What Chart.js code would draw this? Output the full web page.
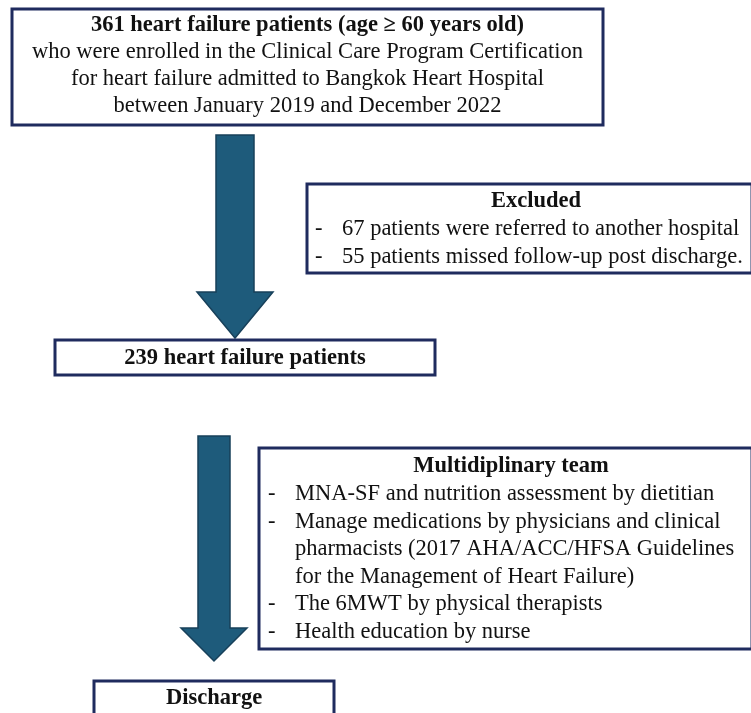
<!DOCTYPE html>
<html lang="en">
<head>
    <meta charset="UTF-8">
    <title>Heart failure patient flow</title>
    <script src="https://cdn.jsdelivr.net/npm/chart.js"></script>
    <style>
        body { margin: 0; background: #fff; }
        #flow { display: block; }
    </style>
</head>
<body>
    <canvas id="flow" width="751" height="713"></canvas>

    <script>
        // Flow data
        const totalPatients = 361;
        const enrolledLines = [
            'who were enrolled in the Clinical Care Program Certification',
            'for heart failure admitted to Bangkok Heart Hospital',
            'between January 2019 and December 2022'
        ];
        const excludedCounts = [67, 55];
        const excludedReasons = ['patients were referred to another hospital', 'patients missed follow-up post discharge.'];
        const includedPatients = 239;
        const teamTitle = 'Multidiplinary team';
        const teamItems = [
            ['MNA-SF and nutrition assessment by dietitian'],
            ['Manage medications by physicians and clinical', 'pharmacists (2017 AHA/ACC/HFSA Guidelines', 'for the Management of Heart Failure)'],
            ['The 6MWT by physical therapists'],
            ['Health education by nurse']
        ];
        const finalStep = 'Discharge';

        // Layout (page units, y grows downward)
        const BORDER = '#1f2b5e';
        const ARROW_FILL = '#1e5b7b';
        const ARROW_EDGE = '#17405a';
        const FONT = '"Liberation Serif", "Times New Roman", serif';
        const FS = 22.5;

        const boxes = [
            { x0: 12, y0: 9, x1: 603, y1: 125 },
            { x0: 307, y0: 184, x1: 752, y1: 273 },
            { x0: 55, y0: 340, x1: 435, y1: 375 },
            { x0: 259, y0: 448, x1: 752, y1: 649 },
            { x0: 94, y0: 681, x1: 334, y1: 720 }
        ];
        const arrows = [
            { cx: 235, top: 135, headTop: 292, tip: 338, shaft: 38, head: 76 },
            { cx: 214, top: 436, headTop: 628, tip: 661, shaft: 32, head: 66 }
        ];

        const flowPlugin = {
            id: 'flow',
            afterDraw(chart) {
                const ctx = chart.ctx;
                const sx = chart.scales.x, sy = chart.scales.y;
                const px = v => sx.getPixelForValue(v);
                const py = v => sy.getPixelForValue(v);

                ctx.save();
                // arrows
                arrows.forEach(a => {
                    ctx.beginPath();
                    ctx.moveTo(px(a.cx - a.shaft / 2), py(a.top));
                    ctx.lineTo(px(a.cx + a.shaft / 2), py(a.top));
                    ctx.lineTo(px(a.cx + a.shaft / 2), py(a.headTop));
                    ctx.lineTo(px(a.cx + a.head / 2), py(a.headTop));
                    ctx.lineTo(px(a.cx), py(a.tip));
                    ctx.lineTo(px(a.cx - a.head / 2), py(a.headTop));
                    ctx.lineTo(px(a.cx - a.shaft / 2), py(a.headTop));
                    ctx.closePath();
                    ctx.fillStyle = ARROW_FILL;
                    ctx.fill();
                    ctx.lineWidth = 1.5;
                    ctx.strokeStyle = ARROW_EDGE;
                    ctx.stroke();
                });

                // boxes
                ctx.lineWidth = 3;
                ctx.strokeStyle = BORDER;
                boxes.forEach(b => {
                    ctx.strokeRect(px(b.x0), py(b.y0), px(b.x1) - px(b.x0), py(b.y1) - py(b.y0));
                });

                ctx.fillStyle = '#111';
                ctx.textBaseline = 'middle';
                const bold = 'bold ' + FS + 'px ' + FONT;
                const normal = FS + 'px ' + FONT;
                const centre = (txt, x, y, font) => {
                    ctx.font = font;
                    ctx.textAlign = 'center';
                    ctx.fillText(txt, px(x), py(y));
                };
                const left = (txt, x, y) => {
                    ctx.font = normal;
                    ctx.textAlign = 'left';
                    ctx.fillText(txt, px(x), py(y));
                };

                // box 1
                centre(totalPatients + ' heart failure patients (age \u2265 60 years old)', 307.5, 25, bold);
                enrolledLines.forEach((t, i) => centre(t, 307.5, 52 + i * 27, normal));

                // excluded
                centre('Excluded', 536, 201, bold);
                excludedCounts.forEach((n, i) => {
                    left('-', 315, 229 + i * 28);
                    left(n + ' ' + excludedReasons[i], 342, 229 + i * 28);
                });

                // included
                centre(includedPatients + ' heart failure patients', 245, 358, bold);

                // team
                centre(teamTitle, 511, 466, bold);
                let row = 0;
                teamItems.forEach(item => {
                    item.forEach((t, j) => {
                        const y = 494 + row * 27.6;
                        if (j === 0) left('-', 268, y);
                        left(t, 295, y);
                        row++;
                    });
                });

                // discharge
                centre(finalStep, 214, 698, bold);
                ctx.restore();
            }
        };

        new Chart(document.getElementById('flow'), {
            type: 'scatter',
            data: { datasets: [{ data: [], pointRadius: 0 }] },
            options: {
                responsive: false,
                animation: false,
                layout: { padding: 0 },
                plugins: { legend: { display: false }, tooltip: { enabled: false } },
                scales: {
                    x: { type: 'linear', min: 0, max: 751, display: false },
                    y: { type: 'linear', min: 0, max: 713, reverse: true, display: false }
                }
            },
            plugins: [flowPlugin]
        });
    </script>
</body>
</html>
